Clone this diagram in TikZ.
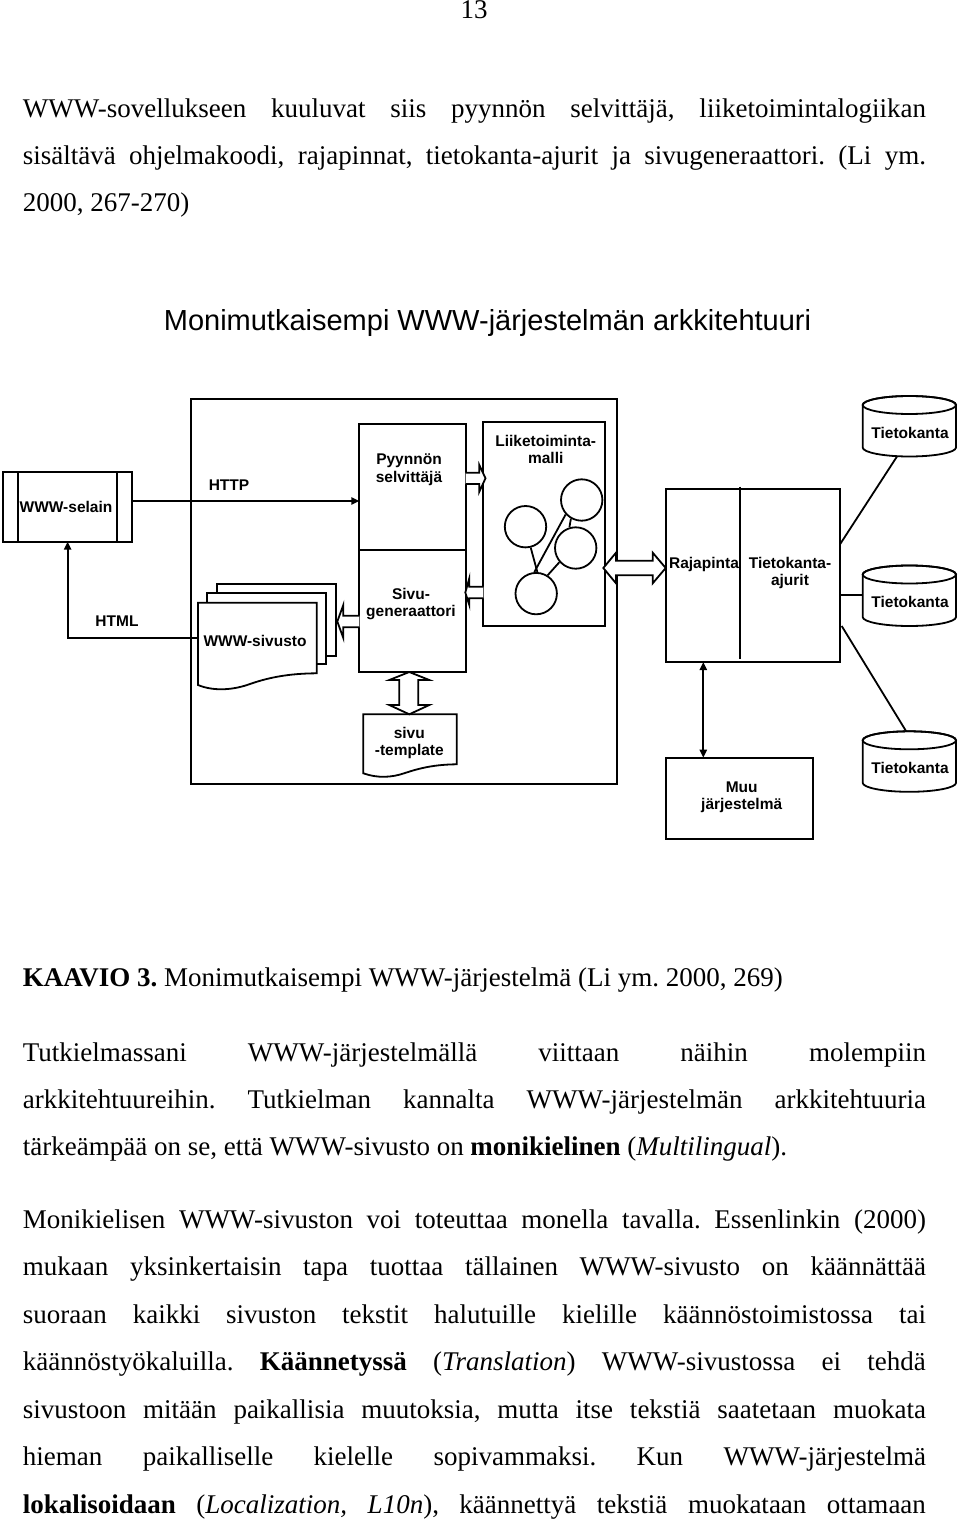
\documentclass[tikz,border=0pt]{standalone}
\usepackage{fontspec}
\setmainfont{Liberation Serif}
\setsansfont{Liberation Sans}
\usetikzlibrary{arrows.meta}
\frenchspacing
\tikzset{
  dbcyl/.pic={
    \draw[fill=white] (-46.65,0) -- (-46.65,42.5)
      arc[start angle=180,end angle=0,x radius=46.65,y radius=9]
      -- (46.65,0) arc[start angle=0,end angle=-180,x radius=46.65,y radius=9] -- cycle;
    \draw (0,0) ellipse[x radius=46.65,y radius=9];
  }
}
\begin{document}
\begin{tikzpicture}[x=0.5pt,y=-0.5pt, line width=0.9pt, line join=miter,
  dtext/.style={font=\sffamily\bfseries\fontsize{7.75}{8.65}\selectfont, align=center, inner sep=0pt},
  btext/.style={font=\fontsize{13.5}{16}\selectfont, anchor=base west, inner sep=0pt},
  box/.style={draw, fill=white, rectangle, inner sep=0pt, outer sep=0pt},
  bub/.style={draw, circle, minimum size=20.7pt, inner sep=0pt},
  arr/.style={-{Triangle[length=4pt,width=3.6pt]}},
  darr/.style={{Triangle[length=4pt,width=3.6pt]}-{Triangle[length=4pt,width=3.6pt]}},
  fat/.style={draw, fill=white, line join=miter},
]
\useasboundingbox (0,0) rectangle (960,1524);
\fill[white] (0,0) rectangle (960,1524);

% ---------- body text ----------
\node[btext, anchor=base] (pg) at (474,19) {13};
\node[btext] (l1) at (22,118) {\makebox[451.5pt][s]{WWW-sovellukseen kuuluvat siis pyynnön selvittäjä, liiketoimintalogiikan}};
\node[btext] (l2) at (22,165) {\makebox[451.5pt][s]{sisältävä ohjelmakoodi, rajapinnat, tietokanta-ajurit ja sivugeneraattori. (Li ym.}};
\node[btext] (l3) at (22,212) {2000, 267-270)};

\node[font=\sffamily\fontsize{14.5}{17}\selectfont, anchor=base, inner sep=0pt] (title) at (487.5,331) {Monimutkaisempi WWW-järjestelmän arkkitehtuuri};

\node[btext] (cap) at (22,986) {\textbf{KAAVIO 3.} Monimutkaisempi WWW-järjestelmä (Li ym. 2000, 269)};

\node[btext] (q1) at (22,1061) {\makebox[451.5pt][s]{Tutkielmassani WWW-järjestelmällä viittaan näihin molempiin}};
\node[btext] (q2) at (22,1108) {\makebox[451.5pt][s]{arkkitehtuureihin. Tutkielman kannalta WWW-järjestelmän arkkitehtuuria}};
\node[btext] (q3) at (22,1155) {tärkeämpää on se, että WWW-sivusto on \textbf{monikielinen} (\textit{Multilingual}).};

\node[btext] (r1t) at (22,1228) {\makebox[451.5pt][s]{Monikielisen WWW-sivuston voi toteuttaa monella tavalla. Essenlinkin (2000)}};
\node[btext] (r2t) at (22,1275.5) {\makebox[451.5pt][s]{mukaan yksinkertaisin tapa tuottaa tällainen WWW-sivusto on käännättää}};
\node[btext] (r3t) at (22,1323) {\makebox[451.5pt][s]{suoraan kaikki sivuston tekstit halutuille kielille käännöstoimistossa tai}};
\node[btext] (r4t) at (22,1370.5) {\makebox[451.5pt][s]{käännöstyökaluilla. \textbf{Käännetyssä} (\textit{Translation}) WWW-sivustossa ei tehdä}};
\node[btext] (r5t) at (22,1418) {\makebox[451.5pt][s]{sivustoon mitään paikallisia muutoksia, mutta itse tekstiä saatetaan muokata}};
\node[btext] (r6t) at (22,1465.5) {\makebox[451.5pt][s]{hieman paikalliselle kielelle sopivammaksi. Kun WWW-järjestelmä}};
\node[btext] (r7t) at (22,1513) {\makebox[451.5pt][s]{\textbf{lokalisoidaan} (\textit{Localization, L10n}), käännettyä tekstiä muokataan ottamaan}};

% ---------- diagram ----------
\node[box, minimum width=213pt, minimum height=192.5pt] (outer) at (403.7,591.5) {};
\node[box, minimum width=64.35pt, minimum height=35pt] (selain) at (67.65,506.7) {};
\draw ([xshift=7.5pt]selain.north west) -- ([xshift=7.5pt]selain.south west);
\draw ([xshift=-7.5pt]selain.north east) -- ([xshift=-7.5pt]selain.south east);

\node[box, minimum width=53.2pt, minimum height=62.85pt] (pyyn) at (412.5,486.85) {};
\node[box, minimum width=53.2pt, minimum height=61.15pt] (sivug) at (412.5,610.85) {};
\node[box, minimum width=60.7pt, minimum height=102pt] (liike) at (544,523.7) {};
\node[box, minimum width=87.15pt, minimum height=86.5pt] (raja) at (752.85,575.5) {};
\draw (740,486.7) -- (740,659);
\node[box, minimum width=73.5pt, minimum height=40.65pt] (muu) at (739.2,798.35) {};

% business model bubbles
\node[bub] (c1) at (525.5,526.7) {};
\node[bub] (c2) at (581.7,500) {};
\node[bub] (c3) at (575.7,548) {};
\node[bub] (c4) at (536.2,593.6) {};
\draw (c4.87) -- (c1.284);
\draw (c4.95) -- (c2.222);
\draw (c2.240) -- (c3.107);
\draw (c4.58) -- (c3.221);

% WWW-sivusto document stack
\draw[fill=white] (216.7,584) rectangle (335.7,655.7);
\draw[fill=white] (207,593) rectangle (325.7,664.3);
\draw[fill=white] (198,602.7) -- (316.7,602.7) -- (316.7,673.3)
  .. controls (290,673.5) and (270,677) .. (250,684)
  .. controls (235,689.5) and (215,692) .. (198,685) -- cycle;

% sivu-template document
\draw[fill=white] (363.3,714.3) -- (456.7,714.3) -- (456.7,764.3)
  .. controls (435,764.5) and (420,768) .. (405,773)
  .. controls (392,777.5) and (378,778.5) .. (363.3,773.3) -- cycle;

% databases
\pic at (909.35,405) {dbcyl};
\pic at (909.35,574.5) {dbcyl};
\pic at (909.35,740.3) {dbcyl};

% fat arrows
\draw[fat] (465.7,472.7) -- (479.3,472.7) -- (479.3,465) -- (485.5,478.3) -- (479.3,491.7) -- (479.3,484) -- (465.7,484);
\draw[fat] (483.3,586.7) -- (469.3,586.7) -- (469.3,578.3) -- (465.3,592.5) -- (469.3,605) -- (469.3,598.3) -- (483.3,598.3);
\draw[fat] (359.3,615.7) -- (343.3,615.7) -- (343.3,605) -- (337.3,621.5) -- (343.3,638) -- (343.3,627.3) -- (359.3,627.3);
\draw[fat] (603.3,568) -- (616,552.7) -- (616,560.7) -- (652.7,560.7) -- (652.7,552.7) -- (665.7,568)
  -- (652.7,583.3) -- (652.7,575.3) -- (616,575.3) -- (616,583.3) -- cycle;
\draw[fat] (409.3,672) -- (429.3,680) -- (418.3,680) -- (418.3,705) -- (429.3,705) -- (409.3,714.3)
  -- (389.3,705) -- (399.3,705) -- (399.3,680) -- (389.3,680) -- cycle;

% thin connectors
\draw[arr] ([yshift=2.85pt]selain.east) -- ([yshift=2.85pt]selain.east -| pyyn.west);
\coordinate (sivL) at (198,637.7);
\draw[arr] (sivL) -| (selain.south);
\coordinate (vx) at (703.3,700);
\draw[darr] (raja.south -| vx) -- (muu.north -| vx);
\coordinate (d1b) at (897.3,456);
\coordinate (d2l) at (862.7,595);
\coordinate (d3t) at (906,731);
\draw ([yshift=15.6pt]raja.east) -- (d1b);
\draw ([yshift=-9.75pt]raja.east) -- (d2l);
\draw ([xshift=0.85pt,yshift=-25.25pt]raja.east) -- (d3t);

% diagram texts
\node[dtext] (selaint) at (66,506.7) {WWW-selain};
\node[dtext] (httpl) at (229,485) {HTTP};
\node[dtext] (htmll) at (117,621) {HTML};
\node[dtext] (pyynt) at (409,469.7) {Pyynnön\\selvittäjä};
\node[dtext] (sivugt) at (411,604) {Sivu-\\generaattori};
\node[dtext] (liiket) at (545.7,449.2) {Liiketoiminta-\\malli};
\node[dtext] (rajat) at (704,564) {Rajapinta};
\node[dtext] (ajurit) at (790,572.85) {Tietokanta-\\ajurit};
\node[dtext] (muut) at (741.7,797.5) {Muu\\järjestelmä};
\node[dtext] (tmplt) at (409.3,743.3) {sivu\\-template};
\node[dtext] (sivustot) at (255,640.7) {WWW-sivusto};
\node[dtext] (db1) at (910,432.7) {Tietokanta};
\node[dtext] (db2) at (910,602.3) {Tietokanta};
\node[dtext] (db3) at (910,768.3) {Tietokanta};
\end{tikzpicture}
\end{document}
